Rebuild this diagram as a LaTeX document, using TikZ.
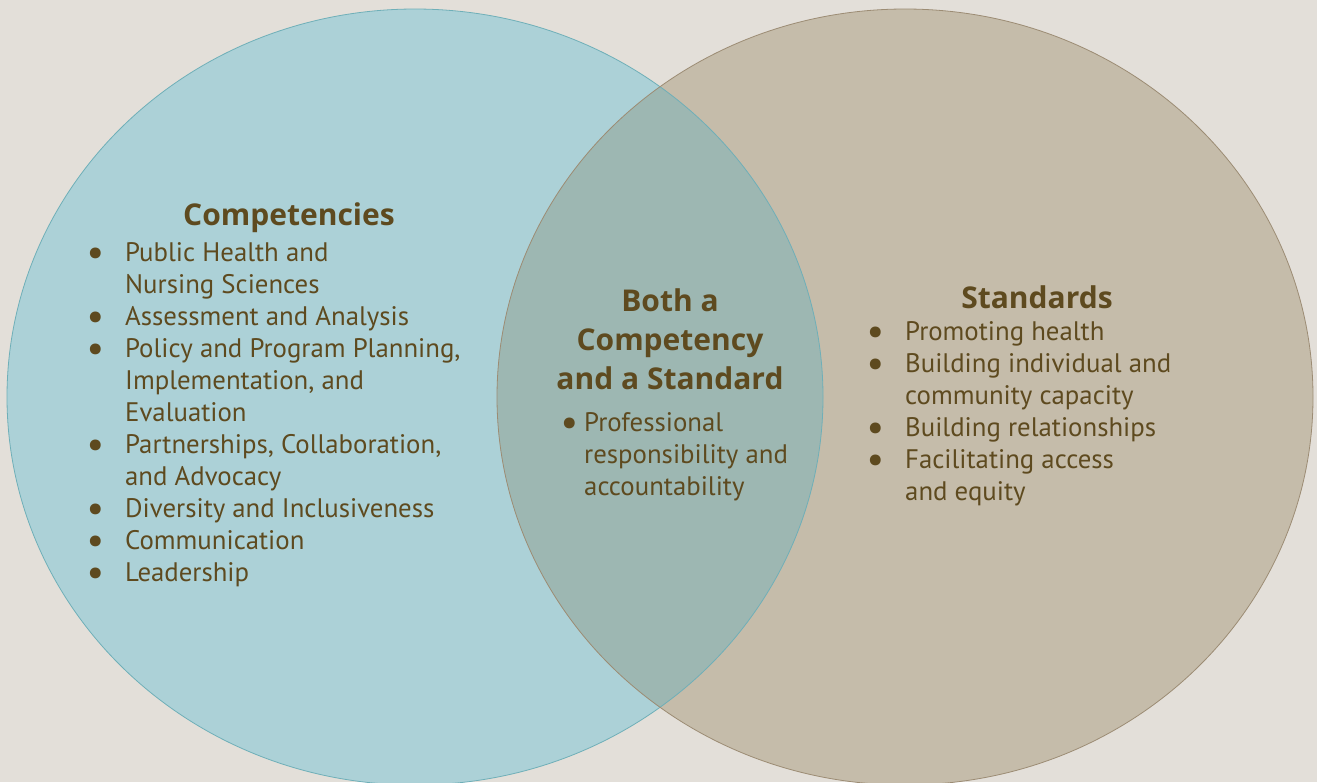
\documentclass[tikz,border=0pt]{standalone}
\usepackage{fontspec}
\setmainfont{PT Sans}
\newfontfamily\headfont{Open Sans}
\definecolor{pagebg}{HTML}{E3DFD9}
\definecolor{compfill}{HTML}{ACD1D7}
\definecolor{compline}{HTML}{6FAFB8}
\definecolor{stdfill}{HTML}{C5BCAA}
\definecolor{stdline}{HTML}{9C8C74}
\definecolor{bothfill}{HTML}{9DB7B2}
\definecolor{inkbrown}{HTML}{5E4A1F}
\newcommand{\bigdot}{\smash{\raisebox{-0.3ex}{\scalebox{1.45}{\textbullet}}}}
\newcommand{\bulA}{\llap{\bigdot\hspace{21pt}}}
\newcommand{\bulB}{\llap{\bigdot\hspace{6pt}}}
\begin{document}
\begin{tikzpicture}[x=1pt,y=-1pt,
  heading/.style={text=inkbrown, font=\headfont\bfseries\fontsize{30}{39}\selectfont, inner sep=0pt, align=center},
  listtext/.style={text=inkbrown, font=\fontsize{26.8}{32}\selectfont, inner sep=0pt, align=left, anchor=north west}]
\useasboundingbox[fill=pagebg] (0,0) rectangle (1317,782);
\begin{scope}
  \clip (0,0) rectangle (1317,782);
  % the two sets
  \fill[compfill] (415,397) ellipse [x radius=408pt, y radius=388pt];
  \fill[stdfill] (905,397) ellipse [x radius=408pt, y radius=388pt];
  % shared region
  \begin{scope}
    \clip (415,397) ellipse [x radius=408pt, y radius=388pt];
    \fill[bothfill] (905,397) ellipse [x radius=408pt, y radius=388pt];
  \end{scope}
  \draw[compline, line width=0.8pt] (415,397) ellipse [x radius=408pt, y radius=388pt];
  \draw[stdline, line width=0.8pt] (905,397) ellipse [x radius=408pt, y radius=388pt];
\end{scope}

% Competencies
\node[heading] (comph) at (289,218) {Competencies};
\node[listtext] (complist) at (125,242) {%
\bulA Public Health and\\
Nursing Sciences\\
\bulA Assessment and Analysis\\
\bulA Policy and Program Planning,\\
Implementation, and\\
Evaluation\\
\bulA Partnerships, Collaboration,\\
and Advocacy\\
\bulA Diversity and Inclusiveness\\
\bulA Communication\\
\bulA Leadership};

% Shared
\node[heading] (bothh) at (670,339) {Both a\\Competency\\and a Standard};
\node[listtext] (bothlist) at (584,412) {%
\bulB Professional\\
responsibility and\\
accountability};

% Standards
\node[heading] (stdh) at (1037,297) {Standards};
\node[listtext] (stdlist) at (905,321) {%
\bulA Promoting health\\
\bulA Building individual and\\
community capacity\\
\bulA Building relationships\\
\bulA Facilitating access\\
and equity};
\end{tikzpicture}
\end{document}
